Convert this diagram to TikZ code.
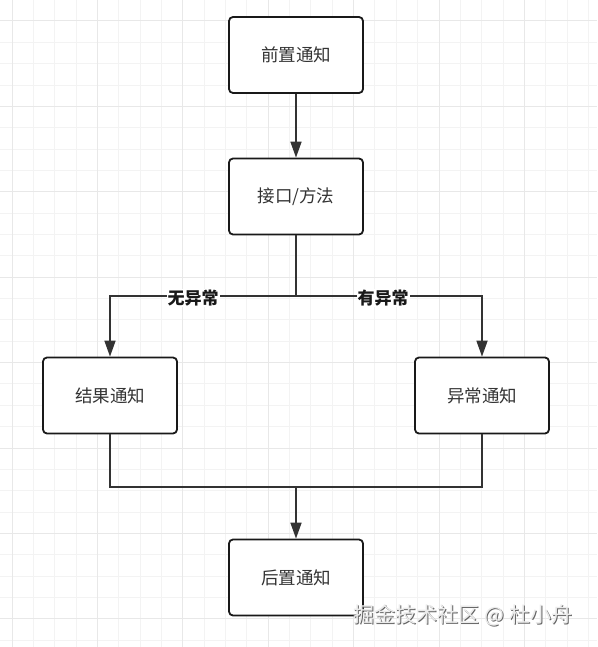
\documentclass[tikz,border=0pt]{standalone}
\usepackage{fontspec}
\newfontfamily\cjk{Noto Sans CJK SC}
\usetikzlibrary{arrows.meta}
\definecolor{minorgrid}{HTML}{F3F3F3}
\definecolor{majorgrid}{HTML}{E8E8E8}
\definecolor{linecol}{HTML}{333333}
\definecolor{txtcol}{HTML}{333333}
\tikzset{
  box/.style={draw=black!90, line width=1.8pt, rounded corners=4pt, fill=white,
    minimum width=134pt, minimum height=76pt, inner sep=0pt, text=txtcol, font=\cjk\fontsize{17.5}{20}\selectfont},
  conn/.style={draw=linecol, line width=1.7pt},
  arr/.style={conn, -{Triangle[length=16pt,width=11pt]}},
  lbl/.style={fill=white, inner sep=1pt, font=\cjk\bfseries\fontsize{17}{20}\selectfont, text=black!90}
}
\begin{document}
\begin{tikzpicture}[x=1pt,y=-1pt]
\useasboundingbox (0,0) rectangle (597,647);
\fill[white] (0,0) rectangle (597,647);
% minor grid
\foreach \i in {0,...,28} {
  \draw[minorgrid, line width=1pt] ({12+21.35*(\i-1)},0) -- ({12+21.35*(\i-1)},647);
}
\foreach \i in {0,...,31} {
  \draw[minorgrid, line width=1pt] (0,{21+21.35*(\i-1)}) -- (597,{21+21.35*(\i-1)});
}
% major grid
\foreach \i in {0,...,7} {
  \draw[majorgrid, line width=1pt] ({12+85.4*\i},0) -- ({12+85.4*\i},647);
}
\foreach \i in {0,...,7} {
  \draw[majorgrid, line width=1pt] (0,{21+85.4*\i}) -- (597,{21+85.4*\i});
}
% nodes
\node[box] (pre) at (296,55) {前置通知};
\node[box] (api) at (296,196.5) {接口/方法};
\node[box] (res) at (110,395.5) {结果通知};
\node[box] (exc) at (482,395.5) {异常通知};
\node[box] (post) at (296,577.5) {后置通知};
\coordinate (split) at (296,296);
\coordinate (join) at (296,487);
% connectors
\draw[arr] (pre) -- (api);
\draw[conn] (api.south) -- (split);
\draw[arr] (split) -| (res.north);
\draw[arr] (split) -| (exc.north);
\draw[conn] (res.south) |- (join);
\draw[conn] (exc.south) |- (join);
\draw[arr] (join) -- (post.north);
\node[lbl] (l1) at (193,298) {无异常};
\node[lbl] (l2) at (383,298) {有异常};
% watermark
\node[font=\cjk\fontsize{21}{24}\selectfont, text=black!60, anchor=center] (wm0) at (464,616) {掘金技术社区 @ 杜小舟};
\node[font=\cjk\fontsize{21}{24}\selectfont, text=white!92!black, anchor=center] (wm) at (463,615) {掘金技术社区 @ 杜小舟};
\end{tikzpicture}
\end{document}
